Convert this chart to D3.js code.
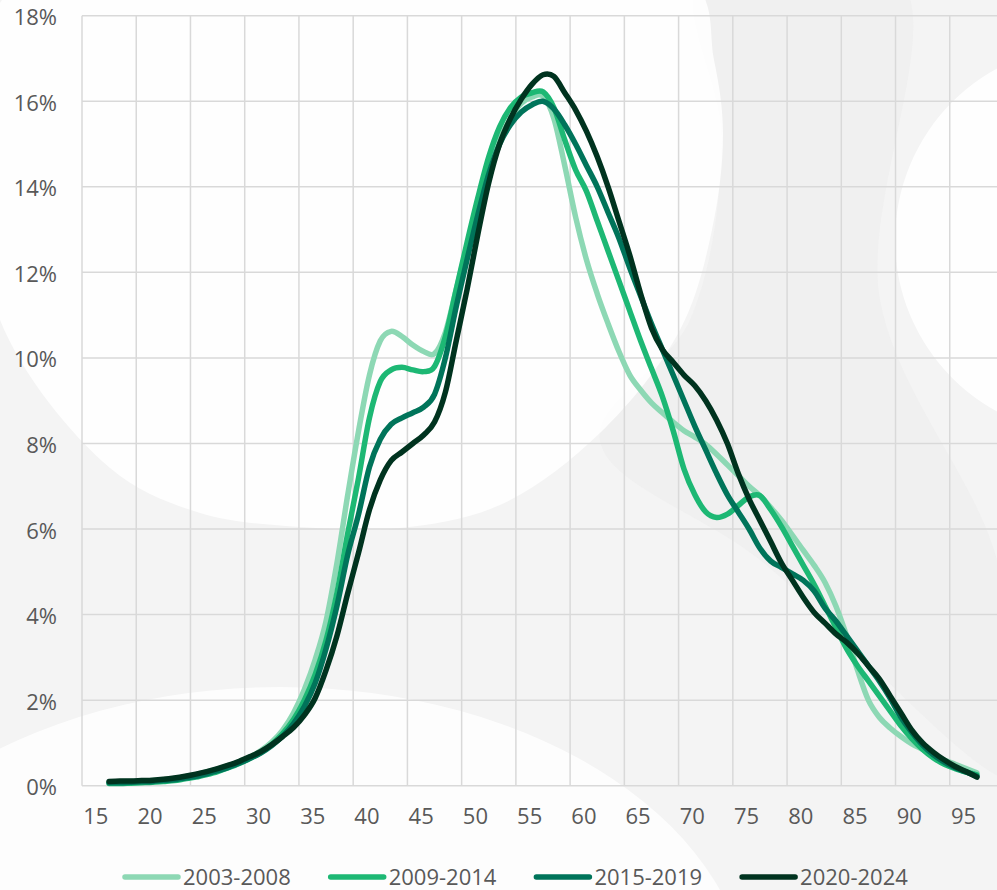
<!DOCTYPE html>
<html>
<head>
<meta charset="utf-8">
<script src="https://cdn.jsdelivr.net/npm/d3@7"></script>
<style>
  html, body { margin: 0; padding: 0; background: #f3f3f3; }
  svg { display: block; }
  text { font-family: "Open Sans", "Noto Sans", sans-serif; fill: #595959; }
</style>
</head>
<body>
<svg id="chart" width="997" height="890"></svg>
<script>
// ---------------- DATA ----------------
const ages = [16,17,18,19,20,21,22,23,24,25,26,27,28,29,30,31,32,33,34,35,36,37,38,39,40,
  41,42,43,44,45,46,47,48,49,50,51,52,53,54,55,56,57,58,59,60,61,62,63,64,65,66,67,68,69,70,
  71,72,73,74,75,76,77,78,79,80,81,82,83,84,85,86,87,88,89,90,91,92,93,94,95,96];

const s2003_2008 = [0.08,0.09,0.10,0.11,0.12,0.14,0.17,0.21,0.26,0.32,0.39,0.47,0.56,0.67,0.82,
  1.02,1.30,1.70,2.25,2.95,3.85,5.20,6.80,8.30,9.60,10.40,10.62,10.50,10.30,10.15,10.10,10.60,
  11.60,12.60,13.50,14.40,15.10,15.60,15.95,16.10,16.12,15.60,14.50,13.30,12.30,11.50,10.80,
  10.15,9.60,9.25,8.95,8.72,8.50,8.30,8.15,7.98,7.75,7.50,7.25,7.00,6.78,6.50,6.20,5.85,5.50,
  5.15,4.75,4.20,3.50,2.70,2.00,1.60,1.35,1.15,0.98,0.85,0.72,0.60,0.50,0.40,0.30];

const s2009_2014 = [0.05,0.05,0.06,0.07,0.08,0.10,0.12,0.16,0.20,0.26,0.33,0.42,0.52,0.64,0.78,
  0.97,1.22,1.55,2.00,2.60,3.40,4.50,5.90,7.20,8.60,9.45,9.72,9.78,9.72,9.68,9.80,10.50,11.60,
  12.70,13.75,14.70,15.40,15.85,16.10,16.20,16.22,15.85,15.10,14.40,13.90,13.20,12.50,11.80,
  11.10,10.40,9.75,9.10,8.30,7.40,6.80,6.40,6.27,6.35,6.55,6.75,6.78,6.45,6.05,5.60,5.15,4.70,
  4.20,3.70,3.20,2.80,2.45,2.10,1.75,1.40,1.10,0.85,0.65,0.50,0.40,0.32,0.25];

const s2015_2019 = [0.07,0.07,0.08,0.09,0.10,0.12,0.14,0.18,0.22,0.28,0.35,0.43,0.53,0.64,0.77,
  0.94,1.16,1.45,1.85,2.40,3.20,4.20,5.40,6.35,7.45,8.10,8.45,8.60,8.72,8.85,9.15,10.00,11.20,
  12.30,13.35,14.30,15.00,15.45,15.75,15.92,16.00,15.82,15.45,15.00,14.50,14.00,13.40,12.80,
  12.10,11.45,10.80,10.20,9.60,9.00,8.40,7.85,7.30,6.80,6.40,6.00,5.55,5.25,5.10,4.95,4.80,4.55,
  4.15,3.85,3.50,3.15,2.80,2.45,2.05,1.60,1.25,0.95,0.72,0.55,0.42,0.32,0.22];

const s2020_2024 = [0.10,0.11,0.11,0.12,0.13,0.15,0.18,0.22,0.27,0.33,0.40,0.48,0.57,0.68,0.80,
  0.96,1.15,1.36,1.65,2.05,2.70,3.50,4.50,5.45,6.45,7.15,7.60,7.80,8.00,8.20,8.50,9.20,10.40,
  11.60,12.90,14.10,15.00,15.60,16.05,16.40,16.62,16.58,16.20,15.80,15.30,14.70,14.00,13.20,
  12.40,11.50,10.70,10.20,9.90,9.60,9.35,9.00,8.55,8.00,7.30,6.70,6.20,5.70,5.20,4.80,4.40,4.05,
  3.80,3.55,3.35,3.10,2.80,2.50,2.10,1.70,1.30,1.00,0.78,0.60,0.45,0.33,0.20];

const seriesNames = ["2003-2008", "2009-2014", "2015-2019", "2020-2024"];
const seriesValues = [s2003_2008, s2009_2014, s2015_2019, s2020_2024];
const seriesColors = ["#8dd8b4", "#1db874", "#00745a", "#00331f"];

const xTickLabels = [15,20,25,30,35,40,45,50,55,60,65,70,75,80,85,90,95];
const yTickValues = [0,2,4,6,8,10,12,14,16,18];

// ---------------- LAYOUT ----------------
const W = 997, H = 890;
const plot = { left: 82, top: 15.7, right: 1004, bottom: 785.7 };
const svg = d3.select("#chart");

// background decoration
const bg = svg.append("g");
bg.append("rect").attr("width", W).attr("height", H).attr("fill", "#f4f4f4");
const band = [[700,-20],[900,-20],[880,300],[997,560],[1020,780],[760,560],[600,440],[690,320],[722,140]];
bg.append("path")
  .attr("d", d3.line().curve(d3.curveCatmullRomClosed)(band))
  .attr("fill", "#ededed").attr("opacity", 0.6);
const blob = [[20,-20],[690,-20],[714,60],[723,134],[712,230],[680,330],[600,433],[500,505],
  [400,528],[300,527],[200,513],[110,468],[0,320],[-20,150]];
bg.append("path")
  .attr("d", d3.line().curve(d3.curveCatmullRomClosed)(blob))
  .attr("fill", "#ffffff").attr("opacity", 0.85);
bg.append("ellipse").attr("cx", 280).attr("cy", 1000).attr("rx", 470).attr("ry", 313)
  .attr("fill", "#ffffff").attr("opacity", 0.8);
bg.append("circle").attr("cx", 1090).attr("cy", 240).attr("r", 195)
  .attr("fill", "#ffffff").attr("opacity", 0.9);

// scales
const x = d3.scaleLinear().domain([13.5, 98.5]).range([plot.left, plot.right]);
const y = d3.scaleLinear().domain([0, 18]).range([plot.bottom, plot.top]);

// gridlines
const grid = svg.append("g").attr("stroke", "#d9d9d9").attr("stroke-width", 1.5);
grid.selectAll("line.h").data(yTickValues).join("line")
  .attr("x1", plot.left).attr("x2", plot.right)
  .attr("y1", d => y(d)).attr("y2", d => y(d));
const vBounds = xTickLabels.map(t => t - 1.5).concat([98.5]);
grid.selectAll("line.v").data(vBounds).join("line")
  .attr("x1", d => x(d)).attr("x2", d => x(d))
  .attr("y1", plot.top).attr("y2", plot.bottom);

// y axis labels
const yAxis = d3.axisLeft(y).tickValues(yTickValues).tickFormat(d => d + "%").tickSize(0).tickPadding(25);
const gy = svg.append("g").attr("transform", `translate(${plot.left},2)`).call(yAxis);
gy.select(".domain").remove();
gy.selectAll("text").attr("font-size", 22).attr("fill", "#595959")
  .style("font-family", '"Open Sans", sans-serif');

// x axis labels
const xAxis = d3.axisBottom(x).tickValues(xTickLabels).tickFormat(d => d).tickSize(0).tickPadding(23);
const gx = svg.append("g").attr("transform", `translate(-3,${plot.bottom})`).call(xAxis);
gx.select(".domain").remove();
gx.selectAll("text").attr("font-size", 22).attr("fill", "#595959")
  .style("font-family", '"Open Sans", sans-serif');

// lines
const line = d3.line()
  .x((d, i) => x(ages[i]))
  .y(d => y(d))
  .curve(d3.curveCatmullRom.alpha(0));

svg.append("g").selectAll("path").data(seriesValues).join("path")
  .attr("d", d => line(d))
  .attr("fill", "none")
  .attr("stroke", (d, i) => seriesColors[i])
  .attr("stroke-width", 5.5)
  .attr("stroke-linecap", "round")
  .attr("stroke-linejoin", "round");

// legend
const legend = svg.append("g");
const legStartX = 123, legStep = 205.7, legY = 877;
const items = legend.selectAll("g").data(seriesNames).join("g")
  .attr("transform", (d, i) => `translate(${legStartX + i * legStep},${legY})`);
items.append("line").attr("x1", 2).attr("x2", 55).attr("y1", 0).attr("y2", 0)
  .attr("stroke", (d, i) => seriesColors[i]).attr("stroke-width", 5.5).attr("stroke-linecap", "round");
items.append("text").attr("x", 60).attr("y", 0).attr("dy", "0.36em")
  .attr("font-size", 22).text(d => d);
</script>
</body>
</html>
